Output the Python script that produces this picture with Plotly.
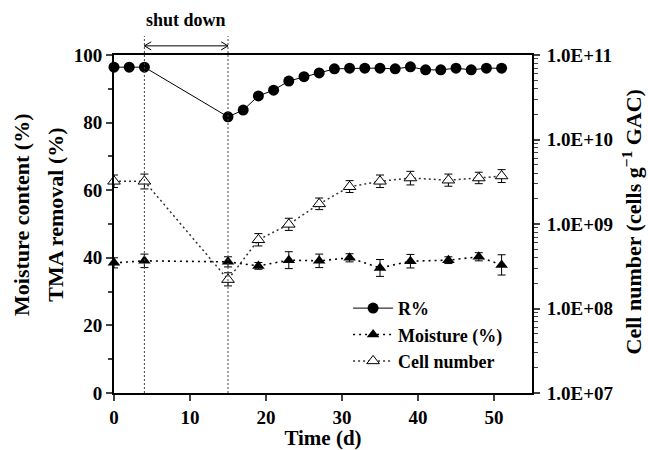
import plotly.graph_objects as go

# ---- data ----
days_r = [0, 2, 4, 15, 17, 19, 21, 23, 25, 27, 29, 31, 33, 35, 37, 39, 41, 43, 45, 47, 49, 51]
removal = [96.4, 96.4, 96.4, 81.7, 83.7, 87.9, 89.6, 92.3, 93.6, 94.7, 95.9, 96.1, 96.1, 96.1,
           95.9, 96.5, 95.6, 95.6, 96.1, 95.6, 96.1, 96.1]

days_m = [0, 4, 15, 19, 23, 27, 31, 35, 39, 44, 48, 51]
moisture = [38.5, 39.1, 38.8, 37.6, 39.3, 39.1, 40.0, 37.0, 39.0, 39.3, 40.3, 37.9]
moisture_err = [1.5, 2.0, 1.5, 1.0, 2.5, 2.0, 1.2, 2.5, 2.0, 1.0, 1.2, 3.0]

days_c = [0, 4, 15, 19, 23, 27, 31, 35, 39, 44, 48, 51]
cells = [3.2e9, 3.2e9, 2.2e8, 6.5e8, 9.9e8, 1.73e9, 2.76e9, 3.2e9, 3.5e9, 3.3e9, 3.5e9, 3.7e9]
cells_err_up = [0.6e9, 0.7e9, 0.45e8, 1.2e8, 1.8e8, 0.3e9, 0.5e9, 0.6e9, 0.7e9, 0.6e9, 0.6e9, 0.7e9]
cells_err_dn = [0.5e9, 0.6e9, 0.35e8, 1.0e8, 1.5e8, 0.25e9, 0.4e9, 0.5e9, 0.6e9, 0.5e9, 0.5e9, 0.6e9]

shutdown_start, shutdown_end = 4, 15

x_ticks = [0, 10, 20, 30, 40, 50]
y_ticks = [0, 20, 40, 60, 80, 100]
y2_ticks = [1e7, 1e8, 1e9, 1e10, 1e11]
y2_labels = ["1.0E+07", "1.0E+08", "1.0E+09", "1.0E+10", "1.0E+11"]

FONT = "Liberation Serif"

fig = go.Figure()

fig.add_trace(go.Scatter(
    x=days_r, y=removal, name="R%", mode="lines+markers",
    line=dict(color="black", width=1),
    marker=dict(symbol="circle", size=11, color="black"),
    cliponaxis=False, legendgroup="a"))

fig.add_trace(go.Scatter(
    x=days_m, y=moisture, name="Moisture (%)", mode="lines+markers",
    line=dict(color="black", width=1.6, dash="2px,4px"),
    marker=dict(symbol="triangle-up", size=11, color="black"),
    error_y=dict(type="data", array=moisture_err, color="black", thickness=1, width=4),
    cliponaxis=False, legendgroup="b"))

fig.add_trace(go.Scatter(
    x=days_c, y=cells, name="Cell number", mode="lines+markers", yaxis="y2",
    line=dict(color="#333333", width=1.5, dash="2px,3px"),
    marker=dict(symbol="triangle-up", size=11, color="white", line=dict(color="black", width=1)),
    error_y=dict(type="data", symmetric=False, array=cells_err_up, arrayminus=cells_err_dn,
                 color="black", thickness=1, width=4),
    cliponaxis=False, legendgroup="c"))

# shutdown markers
for xv in (shutdown_start, shutdown_end):
    fig.add_shape(type="line", xref="x", yref="paper", x0=xv, x1=xv, y0=0, y1=1.056,
                  line=dict(color="#444444", width=1, dash="2px,2px"))

arrow_y = 1.027
head_dx, head_dy = 0.9, 0.012
arrow_path = (
    f"M {shutdown_start},{arrow_y} L {shutdown_end},{arrow_y} "
    f"M {shutdown_start + head_dx},{arrow_y + head_dy} L {shutdown_start},{arrow_y} "
    f"L {shutdown_start + head_dx},{arrow_y - head_dy} "
    f"M {shutdown_end - head_dx},{arrow_y + head_dy} L {shutdown_end},{arrow_y} "
    f"L {shutdown_end - head_dx},{arrow_y - head_dy}"
)
fig.add_shape(type="path", xref="x", yref="paper", path=arrow_path,
              line=dict(color="black", width=1))

fig.add_annotation(x=(shutdown_start + shutdown_end) / 2, y=1.104, xref="x", yref="paper",
                   xanchor="center", yanchor="middle",
                   text="shut down", showarrow=False,
                   font=dict(family=FONT, size=18, color="black", weight="bold"))

# axis titles
fig.add_annotation(x=-0.220, y=0.527, xref="paper", yref="paper", text="Moisture content (%)",
                   xanchor="center", yanchor="middle", textangle=-90, showarrow=False,
                   font=dict(family=FONT, size=22, color="black", weight="bold"))
fig.add_annotation(x=-0.139, y=0.527, xref="paper", yref="paper", text="TMA removal (%)",
                   xanchor="center", yanchor="middle", textangle=-90, showarrow=False,
                   font=dict(family=FONT, size=22, color="black", weight="bold"))
fig.add_annotation(x=1.238, y=0.506, xref="paper", yref="paper",
                   text="Cell number (cells g<sup>−1</sup> GAC)",
                   xanchor="center", yanchor="middle", textangle=-90, showarrow=False,
                   font=dict(family=FONT, size=22, color="black", weight="bold"))

fig.update_layout(
    width=648, height=450,
    margin=dict(l=114, r=116, t=55, b=57, autoexpand=False),
    paper_bgcolor="white", plot_bgcolor="white",
    font=dict(family=FONT, size=19, color="black", weight="bold"),
    showlegend=True,
    legend=dict(x=0.56, y=0.305, xanchor="left", yanchor="top",
                bgcolor="rgba(0,0,0,0)", tracegroupgap=0, itemwidth=40,
                font=dict(family=FONT, size=18, color="black", weight="bold")),
    xaxis=dict(range=[0, 55], tickvals=x_ticks, ticks="outside", ticklen=6, tickwidth=1.5,
               showline=True, linewidth=2, linecolor="black", mirror=True,
               showgrid=False, zeroline=False, automargin=False,
               title=dict(text="Time (d)", font=dict(size=21), standoff=6)),
    yaxis=dict(range=[0, 100], tickvals=y_ticks, ticks="outside", ticklen=6, tickwidth=1.5,
               showline=True, linewidth=2, linecolor="black",
               showgrid=False, zeroline=False, automargin=False,
               minor=dict(tickvals=[10, 30, 50, 70, 90], ticks="outside", ticklen=4, tickwidth=1.5)),
    yaxis2=dict(type="log", range=[7, 11], overlaying="y", side="right",
                tickvals=y2_ticks, ticktext=y2_labels, ticks="outside", ticklen=6, tickwidth=1.5,
                showline=True, linewidth=2, linecolor="black", ticklabelstandoff=3,
                showgrid=False, zeroline=False, automargin=False,
                minor=dict(tickvals=[k * 10 ** e for e in range(7, 11) for k in range(2, 10)],
                           ticks="outside", ticklen=4, tickwidth=1)),
)

fig.write_html("out.html")
